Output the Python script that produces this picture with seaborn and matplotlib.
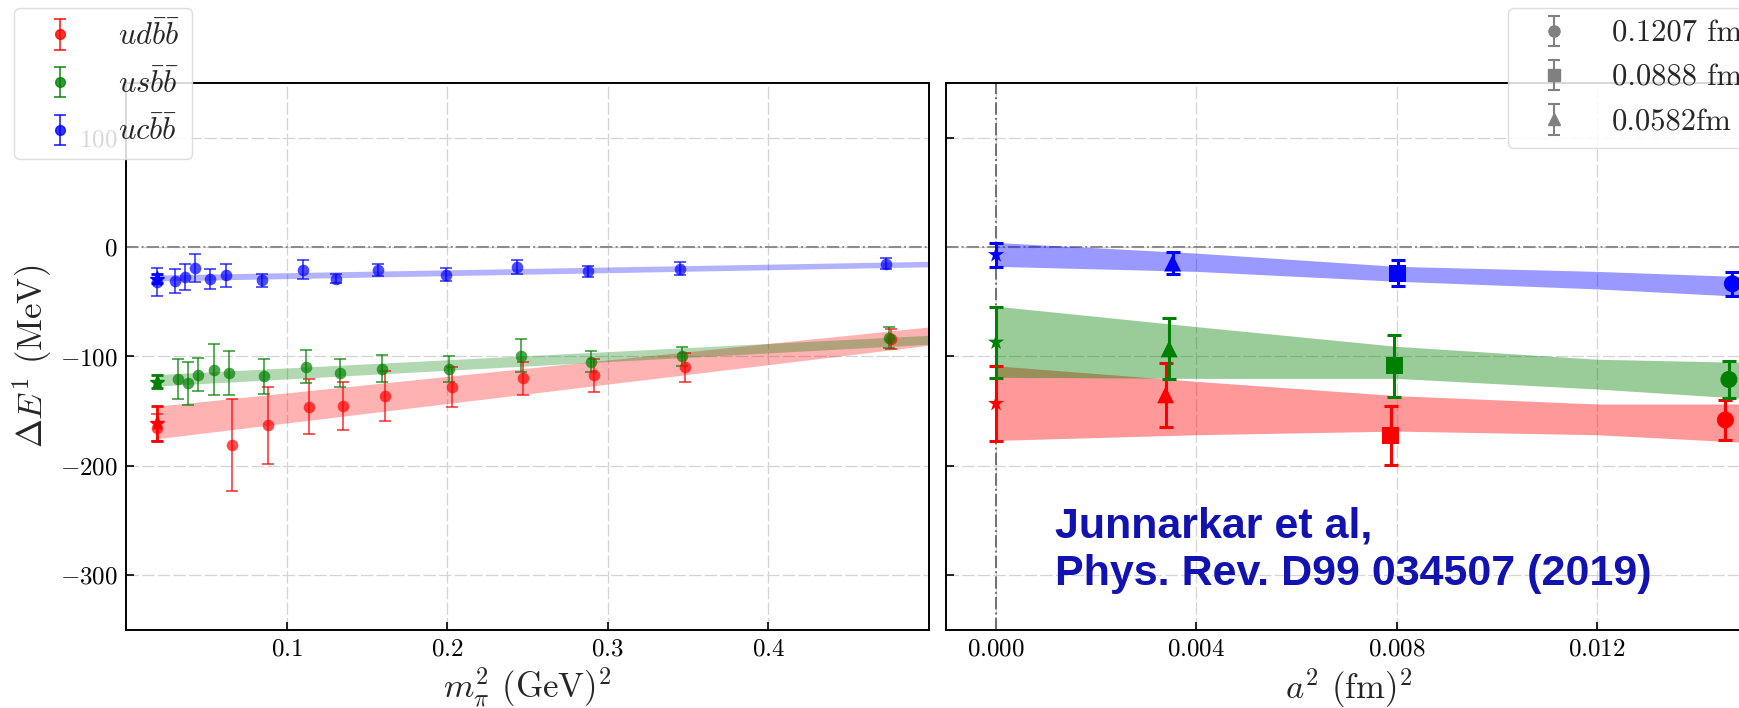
import numpy as np
import pandas as pd
import matplotlib
matplotlib.use("Agg")
import matplotlib.pyplot as plt
import seaborn as sns

# ---- left panel: binding energy vs m_pi^2 ----
m2_ud = [0.0192, 0.0663, 0.0883, 0.1142, 0.1354, 0.1610, 0.2031, 0.2471, 0.2917, 0.3483, 0.4764]
dE_ud = [-165, -181, -163, -146, -145, -136, -128, -120, -117, -110, -84]
err_ud = [12, 42, 35, 25, 22, 23, 18, 15, 15, 13, 9]

m2_us = [0.0323, 0.0385, 0.0448, 0.0548, 0.0642, 0.0862, 0.1123, 0.1333, 0.1594, 0.2010,
         0.2458, 0.2896, 0.3460, 0.4754]
dE_us = [-120.6, -124.6, -116.7, -112, -115.2, -118.2, -109.4, -115.2, -111, -111.5,
         -99.4, -104.9, -100, -82.7]
err_us = [18, 20, 15, 23, 20, 16, 15, 13, 12.5, 12, 15, 9.5, 9, 9.7]

m2_uc = [0.0192, 0.0306, 0.0369, 0.0431, 0.0525, 0.0620, 0.0846, 0.1100, 0.1310, 0.1567,
         0.1990, 0.2435, 0.2875, 0.3448, 0.4730]
dE_uc = [-32, -30.6, -27.3, -19, -29, -25.8, -30.3, -20.6, -28.8, -21.2, -25.2, -18.5,
         -22.1, -19.7, -15.2]
err_uc = [13, 11, 12, 12.7, 9, 10.7, 6, 8.7, 4, 5.5, 6, 6.5, 5, 6, 5]

# physical-point values (stars)
phys_m2 = 0.0192
phys_dE = [-161, -123, -28.8]
phys_err = [16, 6, 4]

# chiral fit bands
band_m2 = [0.0188, 0.5]
band_lo = {"ud": [-175.2, -89.7], "us": [-127, -88.8], "uc": [-31, -18]}
band_hi = {"ud": [-145.5, -73], "us": [-116.5, -80.6], "uc": [-25.5, -13]}

# ---- right panel: vs a^2 (continuum value at a^2 = 0, then 0.0582, 0.0888, 0.1207 fm) ----
a2 = [0.0, 0.0582 ** 2, 0.0888 ** 2, 0.1207 ** 2]
spacing = ["cont", "0.0582fm", "0.0888 fm", "0.1207 fm"]
dEa_ud = [-143, -135, -172, -158]
erra_ud = [34, 29.5, 27, 18]
dEa_us = [-87, -93, -108.5, -121]
erra_us = [32.5, 28, 28.5, 17]
dEa_uc = [-7, -14.5, -24, -33.5]
erra_uc = [11, 10, 12, 11]

aband_x = [0.0, 0.004, 0.008, 0.012, 0.0151]
aband_lo = {"ud": [-176.7, -171.5, -168.2, -171.5, -178.8],
            "us": [-119, -120, -120, -129.7, -138.8],
            "uc": [-17.6, -22.2, -31.2, -38.2, -45.5]}
aband_hi = {"ud": [-108.5, -122.7, -135.8, -143.4, -143.4],
            "us": [-54, -72.7, -90.7, -102.5, -105.5],
            "uc": [4.2, -5.5, -17.6, -22.2, -27.3]}

keys = ["ud", "us", "uc"]
labels = [r"$ud\bar{b}\bar{b}$", r"$us\bar{b}\bar{b}$", r"$uc\bar{b}\bar{b}$"]
colors = {"ud": "red", "us": "green", "uc": "blue"}

left = {
    "ud": (m2_ud, dE_ud, err_ud),
    "us": (m2_us, dE_us, err_us),
    "uc": (m2_uc, dE_uc, err_uc),
}
right = {
    "ud": (dEa_ud, erra_ud),
    "us": (dEa_us, erra_us),
    "uc": (dEa_uc, erra_uc),
}
dodge = {"ud": 0.0, "us": 0.00007, "uc": 0.00014}
markers = {"cont": "*", "0.0582fm": "^", "0.0888 fm": "s", "0.1207 fm": "o"}

sns.set_theme(style="ticks")
plt.rcParams["font.family"] = "serif"
plt.rcParams["font.serif"] = ["cmr10"]
plt.rcParams["mathtext.fontset"] = "cm"
plt.rcParams["axes.formatter.use_mathtext"] = True

W, H = 1739, 708
fig = plt.figure(figsize=(W / 100, H / 100), dpi=100)
ax1 = fig.add_axes([126 / W, 1 - 630 / H, 803 / W, 547 / H])
ax2 = fig.add_axes([946 / W, 1 - 630 / H, 806 / W, 547 / H], sharey=ax1)

grid_kw = dict(color="#d4d4d4", lw=0.9, ls=(0, (10, 2.5)))
for ax in (ax1, ax2):
    ax.grid(True, **grid_kw)
    ax.axhline(0, color="#8a8a8a", lw=1.4, ls="-.", zorder=1)
    for s in ax.spines.values():
        s.set_color("black")
        s.set_linewidth(1.4)
    ax.tick_params(direction="in", length=6, width=1.2, labelsize=18, pad=6,
                   colors="black")
ax2.axvline(0, color="#707070", lw=1.4, ls="-.", zorder=1)

# left panel
for i, k in enumerate(keys):
    c = colors[k]
    x, y, e = left[k]
    df = pd.DataFrame({"m2": x, "dE": y, "err": e})
    ax1.fill_between(band_m2, band_lo[k], band_hi[k], color=c, alpha=0.3, lw=0, zorder=2)
    ax1.errorbar(df["m2"], df["dE"], yerr=df["err"], fmt="none", ecolor=c, alpha=0.7,
                 elinewidth=1.3, capsize=4, capthick=1.3, zorder=3)
    sns.scatterplot(data=df, x="m2", y="dE", color=c, s=70, alpha=0.7, linewidth=0,
                    ax=ax1, zorder=4, legend=False)
    ax1.errorbar([phys_m2], [phys_dE[i]], yerr=[phys_err[i]], fmt="*", color=c, ms=11,
                 elinewidth=2, capsize=4, capthick=2, zorder=5)

# right panel
for k in keys:
    c = colors[k]
    y, e = right[k]
    xs = [a + (dodge[k] if a > 0 else 0.0) for a in a2]
    dfr = pd.DataFrame({"a2": xs, "dE": y, "err": e, "spacing": spacing})
    ax2.fill_between(aband_x, aband_lo[k], aband_hi[k], color=c, alpha=0.4, lw=0, zorder=2)
    ax2.errorbar(dfr["a2"], dfr["dE"], yerr=dfr["err"], fmt="none", ecolor=c,
                 elinewidth=2.2, capsize=5, capthick=2.2, zorder=3)
    sns.scatterplot(data=dfr, x="a2", y="dE", style="spacing", markers=markers, color=c,
                    s=150, linewidth=0, ax=ax2, zorder=4, legend=False)

yticks = [-300, -200, -100, 0, 100]
ax1.set_xlim(0, 0.5)
ax1.set_ylim(-350, 150)
ax2.set_xlim(-0.001, 0.0151)
ax1.set_xticks([0.1, 0.2, 0.3, 0.4])
ax1.set_yticks(yticks)
ax1.set_yticklabels([f"${{-}}{abs(v)}$" if v < 0 else f"${v}$" for v in yticks])
ax2.set_xticks([0.0, 0.004, 0.008, 0.012])
ax2.tick_params(labelleft=False)

ax1.set_xlabel(r"$m_\pi^2$ (GeV)$^2$", fontsize=25, labelpad=4)
ax1.set_ylabel(r"$\Delta E^{\mathbf{1}}$ (MeV)", fontsize=25, labelpad=4)
ax2.set_xlabel(r"$a^2$ (fm)$^2$", fontsize=25, labelpad=4)
ax2.set_ylabel("")

# legends
leg_kw = dict(loc="upper left", bbox_transform=fig.transFigure, fontsize=22,
              framealpha=0.85, edgecolor="#d8d8d8", fancybox=True, handlelength=2.2,
              labelspacing=0.55, borderaxespad=0)
h1 = [ax1.errorbar([np.nan], [np.nan], yerr=[1.0], fmt="o", color=colors[k], alpha=0.8,
                   ms=7, capsize=4, elinewidth=1.3, capthick=1.3) for k in keys]
fig.legend(h1, labels, bbox_to_anchor=(14 / W, 1 - 8 / H), **leg_kw)

h2 = [ax2.errorbar([np.nan], [np.nan], yerr=[1.0], fmt=m, color="gray", ms=8,
                   capsize=4, elinewidth=1.5, capthick=1.5) for m in ["o", "s", "^"]]
fig.legend(h2, ["0.1207 fm", "0.0888 fm", "0.0582fm"],
           bbox_to_anchor=(1508 / W, 1 - 8 / H), **leg_kw)

txt_kw = dict(fontsize=31, fontweight="bold", color="#1212B0",
              family=["Liberation Sans", "DejaVu Sans"], va="baseline", ha="left")
fig.text(1055 / W, 1 - 537 / H, "Junnarkar et al,", **txt_kw)
fig.text(1055 / W, 1 - 585 / H, "Phys. Rev. D99 034507 (2019)", **txt_kw)

fig.savefig("out.png", dpi=100)
